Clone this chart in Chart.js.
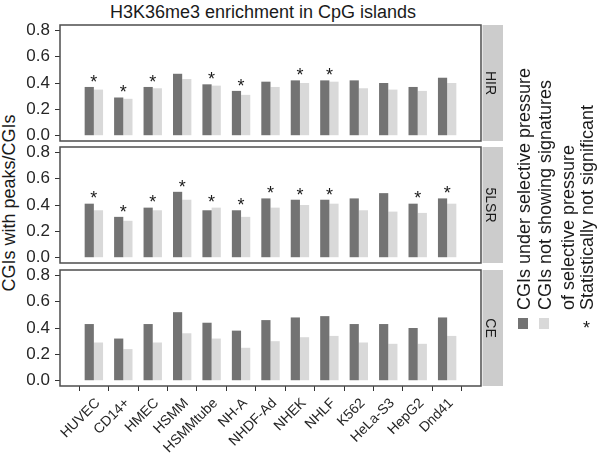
<!DOCTYPE html>
<html>
<head>
<meta charset="utf-8">
<script src="https://cdn.jsdelivr.net/npm/chart.js@4.4.0/dist/chart.umd.min.js"></script>
<style>
  body { margin: 0; width: 600px; height: 457px; position: relative; background: #fff;
         font-family: 'Liberation Sans', Arial, sans-serif; overflow: hidden; }
  canvas { position: absolute; left: 0; }
  .t { position: absolute; white-space: nowrap; line-height: 18px; color: #1a1a1a; }
  .rot { transform-origin: 0 0; transform: rotate(-90deg); font-size: 18px; }
  .key { position: absolute; width: 10px; height: 11px; }
</style>
</head>
<body>
<div class="t" style="left:0;width:526px;top:3px;text-align:center;font-size:18px">H3K36me3 enrichment in CpG islands</div>
<div class="t" style="left:9px;top:203px;font-size:18px;transform:translate(-50%,-50%) rotate(-90deg)">CGIs with peaks/CGIs</div>

<canvas id="hir" width="600" height="126" style="top:20px"></canvas>
<canvas id="lsr" width="600" height="126" style="top:142px"></canvas>
<canvas id="ce" width="600" height="192" style="top:265px"></canvas>

<div class="t rot" style="left:515px;top:310px">CGIs under selective pressure</div>
<div class="t rot" style="left:536px;top:310px">CGIs not showing signatures</div>
<div class="t rot" style="left:559px;top:310px">of selective pressure</div>
<div class="t rot" style="left:578px;top:310px">Statistically not significant</div>
<div class="key" style="left:518px;top:318px;background:#737373"></div>
<div class="key" style="left:539px;top:318px;background:#d9d9d9"></div>
<div class="t" style="left:583px;top:319px;font-size:18px">*</div>

<script>
const categories = ['HUVEC', 'CD14+', 'HMEC', 'HSMM', 'HSMMtube', 'NH-A', 'NHDF-Ad',
                    'NHEK', 'NHLF', 'K562', 'HeLa-S3', 'HepG2', 'Dnd41'];
const series = ['CGIs under selective pressure', 'CGIs not showing signatures of selective pressure'];
const yTicks = [0, 0.2, 0.4, 0.6, 0.8];

// HIR panel
const hirUnder = [0.37, 0.29, 0.37, 0.47, 0.39, 0.34, 0.41, 0.42, 0.42, 0.42, 0.40, 0.37, 0.44];
const hirNot   = [0.35, 0.28, 0.36, 0.43, 0.38, 0.31, 0.37, 0.40, 0.41, 0.36, 0.35, 0.34, 0.40];
const hirStar  = [1, 1, 1, 0, 1, 1, 0, 1, 1, 0, 0, 0, 0];

// 5LSR panel
const lsrUnder = [0.41, 0.31, 0.38, 0.50, 0.36, 0.36, 0.45, 0.44, 0.44, 0.45, 0.49, 0.41, 0.45];
const lsrNot   = [0.36, 0.28, 0.36, 0.44, 0.38, 0.31, 0.38, 0.40, 0.41, 0.36, 0.35, 0.34, 0.41];
const lsrStar  = [1, 1, 1, 1, 1, 1, 1, 1, 1, 0, 0, 1, 1];

// CE panel
const ceUnder = [0.43, 0.32, 0.43, 0.52, 0.44, 0.38, 0.46, 0.48, 0.49, 0.43, 0.43, 0.40, 0.48];
const ceNot   = [0.29, 0.24, 0.29, 0.36, 0.32, 0.25, 0.30, 0.33, 0.34, 0.29, 0.28, 0.28, 0.34];
const ceStar  = [0, 0, 0, 0, 0, 0, 0, 0, 0, 0, 0, 0, 0];

const DARK = '#737373', LIGHT = '#d9d9d9';
const FONT = "'Liberation Sans', Arial, sans-serif";

// frame, gray strip with the panel name, and the asterisks
function deco(under, not, stars, strip) {
    return {
        id: 'deco',
        afterDatasetsDraw(chart) {
            const { ctx, chartArea: a, scales } = chart;
            ctx.save();
            ctx.fillStyle = '#1a1a1a';
            ctx.font = '18px ' + FONT;
            ctx.textAlign = 'center';
            ctx.textBaseline = 'alphabetic';
            stars.forEach((s, i) => {
                if (!s) return;
                const v = Math.max(under[i], not[i]) + 0.07;
                // +10: the '*' glyph sits ~10px above the baseline
                ctx.fillText('*', scales.x.getPixelForValue(i), scales.y.getPixelForValue(v) + 10);
            });
            ctx.strokeStyle = '#4d4d4d';
            ctx.lineWidth = 1.5;
            ctx.strokeRect(a.left, a.top, a.right - a.left, a.bottom - a.top);
            ctx.fillStyle = '#cccccc';
            ctx.fillRect(a.right + 1.5, a.top, 20.5, a.bottom - a.top);
            ctx.translate(a.right + 9, (a.top + a.bottom) / 2);
            ctx.rotate(Math.PI / 2);
            ctx.fillStyle = '#1a1a1a';
            ctx.font = '14px ' + FONT;
            ctx.textBaseline = 'middle';
            ctx.fillText(strip, 0, 0);
            ctx.restore();
        }
    };
}

function panel(id, under, not, stars, strip, showX) {
    const xScale = {
        type: 'linear', min: -0.6, max: 12.6, display: showX,
        afterBuildTicks: s => { s.ticks = categories.map((c, i) => ({ value: i })); },
        ticks: {
            callback: v => categories[v], autoSkip: false, maxRotation: 45, minRotation: 45,
            font: { size: 14, family: FONT }, color: '#262626', padding: 4, labelOffset: 4
        },
        grid: { drawOnChartArea: false, drawTicks: true, tickLength: 5, color: '#333' },
        border: { display: false }
    };
    if (showX) xScale.afterFit = s => { s.height = 71; s.paddingLeft = 0; s.paddingRight = 0; };

    return new Chart(document.getElementById(id), {
        type: 'bar',
        data: {
            datasets: [
                { label: series[0], data: under.map((v, i) => ({ x: i, y: v })), backgroundColor: DARK },
                { label: series[1], data: not.map((v, i) => ({ x: i, y: v })), backgroundColor: LIGHT }
            ]
        },
        options: {
            responsive: false,
            animation: false,
            devicePixelRatio: 1,
            datasets: { bar: { categoryPercentage: 0.625, barPercentage: 1 } },
            layout: { padding: { top: 5, bottom: showX ? 0 : 5, left: 0, right: 119 } },
            plugins: { legend: { display: false }, tooltip: { enabled: false } },
            scales: {
                x: xScale,
                y: {
                    min: -0.04, max: 0.84,
                    afterBuildTicks: s => { s.ticks = yTicks.map(v => ({ value: v })); },
                    afterFit: s => { s.width = 60; s.paddingTop = 0; s.paddingBottom = 0; },
                    ticks: { callback: v => v.toFixed(1), font: { size: 17, family: FONT }, color: '#262626', padding: 5 },
                    grid: { drawOnChartArea: false, drawTicks: true, tickLength: 5, color: '#333' },
                    border: { display: false }
                }
            }
        },
        plugins: [deco(under, not, stars, strip)]
    });
}

panel('hir', hirUnder, hirNot, hirStar, 'HIR', false);
panel('lsr', lsrUnder, lsrNot, lsrStar, '5LSR', false);
panel('ce', ceUnder, ceNot, ceStar, 'CE', true);
</script>
</body>
</html>
